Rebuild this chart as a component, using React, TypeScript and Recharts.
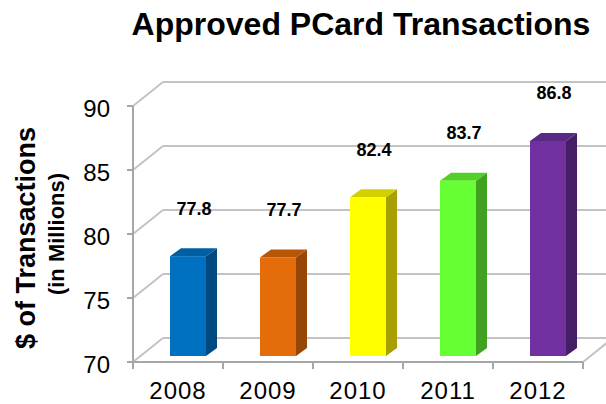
import React from "react";
import { BarChart, Bar, XAxis, YAxis, CartesianGrid, LabelList } from "recharts";

const years = ["2008", "2009", "2010", "2011", "2012"];
const amounts = [77.8, 77.7, 82.4, 83.7, 86.8];
const yTicks = [70, 75, 80, 85, 90];

const FRONT = ["#0070C0", "#E46C0A", "#FFFF00", "#66FF33", "#7030A0"];
const TOP = ["#005FA3", "#B85608", "#D4D000", "#52D028", "#5A2885"];
const SIDE = ["#004A80", "#964606", "#A8A000", "#40A020", "#461E66"];

const FONT = "Arial, 'Liberation Sans', sans-serif";
const W = 606;
const H = 404;
const LEFT = 133;
const RIGHT_MARGIN = 23;
const TOP_MARGIN = 106;
const XAXIS_H = 42;
const PLOT_BOTTOM = H - XAXIS_H;
const BAND = (W - RIGHT_MARGIN - LEFT) / years.length;
const DEPTH_X = 30;
const DEPTH_Y = 24;
const BAR_DX = 10;
const BAR_DY = 6;
const BOX_DX = 11;
const BOX_DY = 8;
const GRID = "#C3C3C3";
const AXIS = "#A6A6A6";

const data = years.map((year, i) => ({ year, value: amounts[i] }));

const gridLine = (props: any) => {
  const { x1, y1, x2, index } = props;
  const isBottom = Math.abs(y1 - PLOT_BOTTOM) < 1;
  return (
    <g key={`g-${index}-${y1}`}>
      <line x1={x1} y1={y1} x2={x1 + DEPTH_X} y2={y1 - DEPTH_Y} stroke={GRID} strokeWidth={2} />
      <line x1={x1 + DEPTH_X} y1={y1 - DEPTH_Y} x2={W + 20} y2={y1 - DEPTH_Y} stroke={GRID} strokeWidth={2} />
      {isBottom && (
        <line x1={x2} y1={y1} x2={x2 + DEPTH_X} y2={y1 - DEPTH_Y} stroke={GRID} strokeWidth={2} />
      )}
    </g>
  );
};

const Bar3D = (props: any) => {
  const { x, y, width, height, index } = props;
  const fx = x + BAR_DX;
  const fy = y - BAR_DY;
  const bottom = y + height - BAR_DY;
  const w = width;
  return (
    <g>
      <polygon
        points={`${fx + w},${fy} ${fx + w + BOX_DX},${fy - BOX_DY} ${fx + w + BOX_DX},${bottom - BOX_DY} ${fx + w},${bottom}`}
        fill={SIDE[index]}
      />
      <polygon
        points={`${fx},${fy} ${fx + BOX_DX},${fy - BOX_DY} ${fx + w + BOX_DX},${fy - BOX_DY} ${fx + w},${fy}`}
        fill={TOP[index]}
      />
      <rect x={fx} y={fy} width={w} height={bottom - fy} fill={FRONT[index]} />
    </g>
  );
};

const YTick = (props: any) => {
  const { y, payload } = props;
  return (
    <text x={LEFT - 23} y={y + 2} dy="0.355em" textAnchor="end" fontSize={24} fontFamily={FONT} fill="#000">
      {payload.value}
    </text>
  );
};

const XTick = (props: any) => {
  const { x, y, payload, index } = props;
  const last = index === years.length - 1;
  return (
    <g>
      <line x1={x - BAND / 2} y1={y} x2={x - BAND / 2} y2={y + 7} stroke={AXIS} strokeWidth={2} />
      {last && <line x1={x + BAND / 2} y1={y} x2={x + BAND / 2} y2={y + 7} stroke={AXIS} strokeWidth={2} />}
      <text
        x={x}
        y={y + 37}
        textAnchor="middle"
        fontSize={24}
        letterSpacing={1}
        fontFamily={FONT}
        fill="#000"
      >
        {payload.value}
      </text>
    </g>
  );
};

const ValueLabel = (props: any) => {
  const { x, y, width, value } = props;
  return (
    <text
      x={x + width / 2 + 16}
      y={y - 47.6}
      textAnchor="middle"
      fontSize={18}
      fontWeight="bold"
      fontFamily={FONT}
      fill="#000"
    >
      {value}
    </text>
  );
};

export default function App() {
  return (
    <div style={{ position: "absolute", left: 0, top: 0, width: W, height: H, background: "#fff" }}>
      <BarChart
        width={W}
        height={H}
        data={data}
        margin={{ top: TOP_MARGIN, right: RIGHT_MARGIN, bottom: 0, left: 0 }}
      >
        <CartesianGrid vertical={false} horizontal={gridLine} />
        <XAxis
          dataKey="year"
          height={XAXIS_H}
          axisLine={{ stroke: AXIS, strokeWidth: 2 }}
          tickLine={false}
          tickSize={0}
          tickMargin={0}
          tick={<XTick />}
          interval={0}
        />
        <YAxis
          width={LEFT}
          domain={[70, 90]}
          ticks={yTicks}
          allowDataOverflow
          axisLine={{ stroke: AXIS, strokeWidth: 2 }}
          tickLine={{ stroke: AXIS, strokeWidth: 2 }}
          tickSize={6}
          tickMargin={16}
          tick={<YTick />}
        />
        <Bar dataKey="value" barSize={36} shape={<Bar3D />} isAnimationActive={false}>
          <LabelList dataKey="value" content={<ValueLabel />} />
        </Bar>
      </BarChart>
      <svg
        width={W}
        height={H}
        style={{ position: "absolute", left: 0, top: 0, pointerEvents: "none" }}
      >
        <text x={361} y={35} textAnchor="middle" fontSize={32} fontWeight="bold" fontFamily={FONT} fill="#000">
          Approved PCard Transactions
        </text>
        <text
          x={35}
          y={238}
          transform="rotate(-90, 35, 238)"
          textAnchor="middle"
          fontSize={27}
          fontWeight="bold"
          fontFamily={FONT}
          fill="#000"
        >
          $ of Transactions
        </text>
        <text
          x={63.5}
          y={234}
          transform="rotate(-90, 63.5, 234)"
          textAnchor="middle"
          fontSize={22}
          fontWeight="bold"
          fontFamily={FONT}
          fill="#000"
        >
          (in Millions)
        </text>
      </svg>
    </div>
  );
}
